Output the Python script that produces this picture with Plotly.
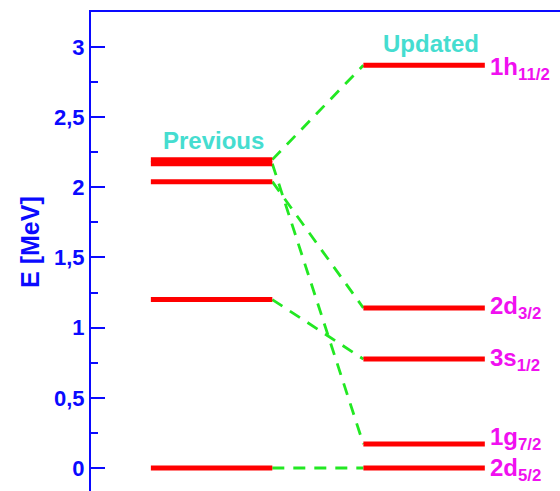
import plotly.graph_objects as go

# Single-particle levels (MeV): previous vs. updated
orbitals = ["2d<sub>5/2</sub>", "1g<sub>7/2</sub>", "3s<sub>1/2</sub>", "2d<sub>3/2</sub>", "1h<sub>11/2</sub>"]
e_previous = [0.0, 2.168, 1.20, 2.04, 2.197]
e_updated = [0.0, 0.17, 0.776, 1.14, 2.87]
column_titles = ["Previous", "Updated"]
y_ticks = [0, 0.5, 1, 1.5, 2, 2.5, 3]

BLUE = "#0a0aff"
RED = "#ff0000"
GREEN = "#22e822"
MAGENTA = "#f010f0"
TURQ = "#45ddd0"
FONT = "Liberation Sans, Arial, Helvetica, sans-serif"

# column geometry in x units
PREV = (0.0, 1.0)
UPD = (1.75, 2.75)

fig = go.Figure()

# dashed connectors between the two columns
cx, cy = [], []
for ep, eu in zip(e_previous, e_updated):
    cx += [PREV[1], UPD[0], None]
    cy += [ep, eu, None]
fig.add_trace(go.Scatter(x=cx, y=cy, mode="lines", hoverinfo="skip",
                         line=dict(color=GREEN, width=2.8, dash="12px,9px")))

# level bars
for col, energies in ((PREV, e_previous), (UPD, e_updated)):
    lx, ly = [], []
    for e in energies:
        lx += [col[0], col[1], None]
        ly += [e, e, None]
    fig.add_trace(go.Scatter(x=lx, y=ly, mode="lines", hoverinfo="skip",
                             line=dict(color=RED, width=5)))

# level labels on the updated side
label_shift = {"1g<sub>7/2</sub>": 6, "2d<sub>5/2</sub>": -2, "1h<sub>11/2</sub>": -3}
for name, e in zip(orbitals, e_updated):
    fig.add_annotation(x=UPD[1], y=e, text=name, showarrow=False,
                       xanchor="left", yanchor="middle", xshift=3,
                       yshift=label_shift.get(name, 0),
                       font=dict(family=FONT, size=24, color=MAGENTA, weight="bold"))

# column headings
fig.add_annotation(x=sum(PREV) / 2, y=max(e_previous), text=column_titles[0],
                   showarrow=False, xanchor="center", yanchor="bottom",
                   xshift=2, yshift=4,
                   font=dict(family=FONT, size=24, color=TURQ, weight="bold"))
fig.add_annotation(x=sum(UPD) / 2, y=max(e_updated), text=column_titles[1],
                   showarrow=False, xanchor="center", yanchor="bottom",
                   xshift=7, yshift=6,
                   font=dict(family=FONT, size=24, color=TURQ, weight="bold"))

# axis title
fig.add_annotation(xref="paper", yref="paper", x=0, y=0.52, text="E [MeV]",
                   textangle=-90, showarrow=False, xanchor="center", yanchor="middle",
                   xshift=-61,
                   font=dict(family=FONT, size=25, color=BLUE, weight="bold"))

fig.update_layout(
    width=560, height=491,
    margin=dict(l=91, r=0, t=12, b=0, autoexpand=False),
    paper_bgcolor="white", plot_bgcolor="white",
    showlegend=False,
    separators=", ",
    xaxis=dict(range=[-0.493, 3.369], side="top", showline=True, linecolor=BLUE,
               linewidth=2, showgrid=False, zeroline=False, showticklabels=False,
               ticks=""),
    yaxis=dict(range=[-0.164, 3.249], showline=True, linecolor=BLUE, linewidth=2,
               showgrid=False, zeroline=False, tickvals=y_ticks,
               ticks="inside", ticklen=14, tickwidth=2, tickcolor=BLUE,
               tickfont=dict(family=FONT, size=22, color=BLUE, weight="bold"),
               minor=dict(dtick=0.25, tick0=0, ticks="inside", ticklen=7,
                          tickwidth=2, tickcolor=BLUE)),
)

fig.write_html("out.html")
